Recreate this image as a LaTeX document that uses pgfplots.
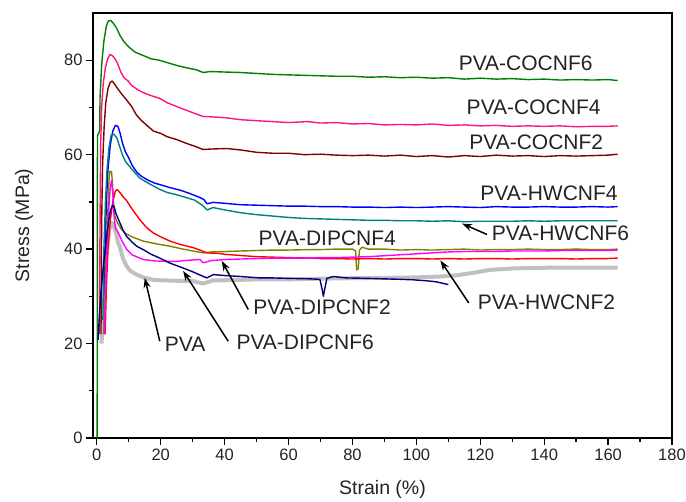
\documentclass[border=0pt]{standalone}
\usepackage{fontspec}
\setmainfont{Liberation Sans}
\usepackage{pgfplots}
\pgfplotsset{compat=1.18}
\usetikzlibrary{arrows.meta}

\definecolor{cgreen}{RGB}{0,128,0}
\definecolor{cpink}{RGB}{255,20,130}
\definecolor{cmaroon}{RGB}{128,0,0}
\definecolor{cblue}{RGB}{0,0,255}
\definecolor{cteal}{RGB}{0,128,128}
\definecolor{colive}{RGB}{128,128,0}
\definecolor{cred}{RGB}{255,0,0}
\definecolor{cmag}{RGB}{255,0,255}
\definecolor{cnavy}{RGB}{0,0,128}
\definecolor{cgray}{RGB}{192,192,192}
\definecolor{txt}{RGB}{35,35,35}

\begin{document}
\begin{tikzpicture}
\begin{axis}[
    name=ax,
    scale only axis,
    width=579pt, height=425pt,
    xmin=-1.2, xmax=180, ymin=0, ymax=90,
    xtick={0,20,...,180}, ytick={0,20,...,80},
    minor x tick num=1, minor y tick num=1,
    tick pos=left, tick align=outside,
    major tick length=7pt, minor tick length=4pt,
    every tick/.style={black, line width=1.3pt},
    axis line style={line width=1.8pt},
    /pgf/number format/assume math mode=true,
    ticklabel style={font=\fontsize{16.5}{18}\selectfont, text=txt},
    xlabel={Strain (\%)}, ylabel={Stress (MPa)},
    label style={font=\fontsize{19.5}{22}\selectfont, text=txt},
    xlabel style={at={(axis description cs:0.5,-0.122)}, anchor=center},
    ylabel style={at={(axis description cs:-0.119,0.5)}, anchor=center, rotate=0},
    every axis plot/.append style={line width=1.4pt, mark=none, line join=round},
    clip=false,
]
% PVA
\addplot[cgray, line width=4pt] coordinates {
(1.5,20) (1.9,28) (2.5,35) (3.2,40) (3.9,44) (4.6,45.6) (5.2,45.3) (6.0,43.5) (6.6,41.5) (7.2,40.5) (8.2,38.0) (9.3,36.4) (10.5,35.4) (12.4,34.6) (15,33.9) (17.7,33.5) (20,33.4) (25,33.3) (30.2,33.2) (33.3,32.7) (36.5,33.4) (40,33.4) (45,33.5) (50,33.6) (55,33.6) (60,33.6) (66.8,33.7) (75,33.8) (88.7,33.9) (100,34.0) (107.5,34.2) (112,34.4) (118,35.0) (123,35.6) (130,35.9) (135.7,36.0) (145,36.1) (155,36.1) (163,36.1)};
% PVA-COCNF6
\addplot[cgreen] coordinates {
(0.1,0) (0.2,64) (0.9,65) (1.0,72) (1.5,79) (2.2,84) (3.0,87.3) (3.6,88.3) (4.4,88.4) (5.2,87.8) (6.2,86.8) (7.2,85.3) (8.5,83.9) (10,82.8) (12,81.7) (14.5,81.0) (17,80.3) (19.5,80.0) (22,79.5) (25,78.9) (28,78.4) (31,78.0) (33.3,77.4) (35.5,77.6) (40,77.5) (45,77.4) (50,77.2) (55,77.0) (60,76.9) (65,76.8) (70,76.7) (75,76.6) (80,76.6) (85,76.4) (90,76.5) (95,76.3) (100,76.4) (105,76.2) (110,76.3) (115,76.0) (120,76.2) (125,76.0) (130,76.1) (135,75.9) (140,76.0) (145,75.8) (150,75.9) (155,75.8) (160,75.9) (163,75.7)};
% PVA-COCNF4
\addplot[cpink] coordinates {
(0.8,22) (1.0,45) (1.2,62) (1.5,70) (2.0,75) (2.7,78.5) (3.4,80.3) (4.1,81.2) (4.8,81.0) (5.6,80.4) (6.5,79.3) (7.5,77.5) (8.5,76.3) (9.8,75.6) (11,74.6) (12.9,73.7) (15,73.0) (17,72.5) (19.7,71.9) (22,71.0) (25,70.2) (28,69.4) (30,68.9) (33.2,68.1) (36,68.0) (40.6,67.8) (45,67.4) (50,67.2) (55,67.0) (60,66.8) (66,67.0) (70,66.7) (75,66.8) (80,66.5) (85,66.6) (90,66.3) (95,66.4) (100,66.3) (105,66.5) (110,66.2) (115,66.3) (120,66.1) (125,66.2) (130,66.0) (135,66.1) (140,66.0) (145,66.1) (150,65.9) (155,66.0) (160,66.0) (163,66.1)};
% PVA-COCNF2
\addplot[cmaroon] coordinates {
(1.3,22) (1.5,45) (1.8,58) (2.3,66) (2.8,71) (3.5,74) (4.2,75.3) (4.8,75.6) (5.5,75.0) (6.5,74.0) (7.7,72.9) (9.3,71.6) (10.9,70.2) (12.4,68.4) (14,67.2) (16,66.0) (17.7,65.0) (20,64.5) (22,63.8) (25,63.2) (28,62.4) (31,61.7) (33.2,61.1) (36,61.2) (40.6,61.3) (45,61.0) (50,60.5) (55,60.3) (60,60.3) (65,60.0) (70,60.1) (75,59.9) (80,59.8) (85,59.9) (90,59.7) (95,59.9) (100,59.6) (105,59.8) (110,59.5) (115,59.8) (120,59.6) (125,59.9) (130,59.7) (135,59.8) (140,59.6) (145,59.8) (150,59.7) (155,59.8) (160,59.9) (163,60.1)};
% PVA-HWCNF4
\addplot[cblue] coordinates {
(2.3,22) (2.6,40) (3.0,50) (3.5,57) (4.2,62) (5.0,65) (5.8,66.2) (6.6,66.0) (7.3,64.5) (8.0,62.5) (9.0,60.5) (10,59.3) (11,57.8) (12.5,56.3) (14,55.4) (16,54.6) (18,54.0) (20,53.6) (23,53.0) (26,52.5) (29,51.8) (32,51.0) (33.5,50.5) (34.5,49.6) (36.4,49.9) (40,49.7) (45,49.4) (50,49.3) (55,49.2) (60,49.1) (65,49.1) (70,49.0) (75,49.0) (80,48.9) (85,48.9) (90,48.8) (95,48.9) (100,48.8) (105,48.9) (110,49.0) (115,48.9) (120,48.8) (125,49.0) (130,48.9) (135,48.9) (140,49.0) (145,48.9) (150,48.9) (155,49.0) (160,48.9) (163,49.0)};
% PVA-HWCNF6
\addplot[cteal] coordinates {
(1.9,25) (2.2,40) (2.7,50) (3.2,57) (3.8,61.5) (4.5,64.2) (5.4,64.3) (6.3,63.5) (7.0,62.0) (8.0,60.0) (9,58.5) (10.5,57.3) (11.9,56.2) (13.5,55.0) (16,54.0) (19.5,52.7) (22,52.0) (25,51.5) (28,50.9) (30.5,50.4) (33,49.3) (34.5,48.3) (36.4,48.8) (40,48.3) (45,47.7) (50,47.3) (55,47.0) (60,46.7) (65,46.5) (70,46.4) (75,46.3) (80,46.2) (85,46.1) (90,46.1) (95,46.0) (100,46.0) (105,45.9) (110,46.0) (115,45.8) (120,45.9) (125,45.9) (130,45.9) (135,46.0) (140,45.9) (145,46.0) (150,46.0) (155,46.0) (160,46.0) (163,46.0)};
% PVA-DIPCNF4
\addplot[colive] coordinates {
(2.2,22) (2.6,32) (3.0,40) (3.4,47) (3.7,53) (3.9,55.5) (4.1,56.5) (4.6,56.4) (4.9,54) (5.2,50) (5.6,47.0) (6.5,45.5) (7.7,44.2) (9,43.3) (11,42.6) (14.5,41.7) (18,41.2) (22.9,40.6) (27,40.0) (30,39.6) (33.3,39.2) (36,39.4) (40.6,39.5) (45,39.6) (50,39.7) (55,39.8) (60,39.8) (66.8,39.9) (70,39.9) (75,40.0) (80,40.0) (81,39.6) (81.3,35.6) (81.8,35.8) (82.2,39.8) (83,40.4) (85,40.0) (90,40.0) (95,39.8) (100,39.9) (105,39.8) (110,39.9) (115,40.0) (120,39.8) (125,39.9) (130,39.9) (135,40.0) (140,39.9) (145,39.9) (150,40.0) (155,39.9) (160,39.9) (163,40.0)};
% PVA-HWCNF2
\addplot[cred] coordinates {
(2.6,22) (3.0,32) (3.5,40) (4.2,46) (5.0,50) (5.8,52.3) (6.4,52.6) (7.2,52.0) (8.3,51.0) (9.3,50.3) (11,48.5) (13.5,46.2) (15.5,44.6) (17.7,43.4) (20,42.6) (22.9,41.7) (26,41.0) (30.2,40.3) (33,39.6) (34.4,39.2) (38,39.1) (40,38.9) (45.9,38.6) (50,38.4) (55,38.3) (60,38.2) (66.8,38.1) (70,38.0) (75,38.0) (80,37.9) (85,38.0) (90,37.9) (95,38.0) (100,38.0) (105,37.9) (110,38.0) (115,37.9) (120,38.0) (125,38.0) (130,37.9) (135,38.0) (140,38.0) (145,38.0) (150,37.9) (155,38.0) (160,38.0) (163,38.1)};
% PVA-DIPCNF2
\addplot[cmag] coordinates {
(2.4,22) (2.8,32) (3.2,40) (3.7,48) (4.2,53) (4.6,54.5) (5.0,52) (5.4,47) (5.8,44.5) (6.7,43.5) (7.8,41.8) (9.3,40.0) (11,38.8) (14.5,37.8) (18,37.5) (22,37.4) (25,37.4) (28,37.6) (32.3,37.8) (33.3,37.1) (36,37.6) (40.6,37.8) (45,37.9) (50,38.0) (55,38.1) (60,38.1) (66.8,38.1) (70,38.2) (75,38.2) (80,38.3) (85,38.4) (90,38.6) (95,38.8) (100,39.0) (105,39.2) (110,39.4) (115,39.5) (120,39.5) (125,39.5) (130,39.6) (135,39.6) (140,39.6) (145,39.7) (150,39.7) (155,39.7) (160,39.7) (163,39.8)};
% PVA-DIPCNF6
\addplot[cnavy] coordinates {
(0.4,20.8) (0.8,26) (1.3,31) (2.0,36) (2.8,41) (3.5,45) (4.2,48) (4.9,49.3) (5.4,49.0) (6.0,47.5) (7.2,45.6) (8.2,44.0) (9.3,42.7) (11,41.5) (12.5,40.6) (14.5,39.9) (17,38.9) (19.7,38.1) (23,37.0) (27,36.0) (30,35.2) (32,34.6) (34.4,33.9) (36.5,34.6) (40,34.4) (45,34.2) (51,33.9) (55,33.9) (60,33.8) (66.8,33.7) (69.8,33.6) (70.5,31.5) (70.9,30.0) (71.3,31.5) (72,33.8) (74,34.2) (78,33.9) (85,33.8) (90,33.7) (95,33.6) (99,33.5) (103,33.3) (106,33.1) (108,32.8) (110,32.5)};

% annotations
\begin{scope}[every node/.style={font=\fontsize{21}{24}\selectfont, text=txt, inner sep=0pt}]
\node at (axis cs:134.2,79.3) {PVA-COCNF6};
\node at (axis cs:136.7,70.1) {PVA-COCNF4};
\node at (axis cs:137.5,62.7) {PVA-COCNF2};
\node at (axis cs:141.5,51.8) {PVA-HWCNF4};
\node at (axis cs:145.1,43.3) {PVA-HWCNF6};
\node at (axis cs:140.7,28.8) {PVA-HWCNF2};
\node at (axis cs:72.1,42.2) {PVA-DIPCNF4};
\node at (axis cs:70.5,27.7) {PVA-DIPCNF2};
\node at (axis cs:65.2,20.3) {PVA-DIPCNF6};
\node at (axis cs:27.6,19.8) {PVA};
\end{scope}
\begin{scope}[line width=1.5pt, black, -{Stealth[length=10pt,width=7pt]}]
\draw (axis cs:122.1,43.1) -- (axis cs:114.3,45.4);
\draw (axis cs:116.4,28.6) -- (axis cs:107.5,37.6);
\draw (axis cs:47.4,27.2) -- (axis cs:39.1,37.5);
\draw (axis cs:41.1,20.5) -- (axis cs:27.0,35.4);
\draw (axis cs:19.7,20.5) -- (axis cs:15.0,33.9);
\end{scope}
\end{axis}
\pgfresetboundingbox
\path[use as bounding box] ([xshift=-93pt,yshift=-64pt]ax.south west) rectangle ([xshift=14pt,yshift=13pt]ax.north east);
\end{tikzpicture}
\end{document}
